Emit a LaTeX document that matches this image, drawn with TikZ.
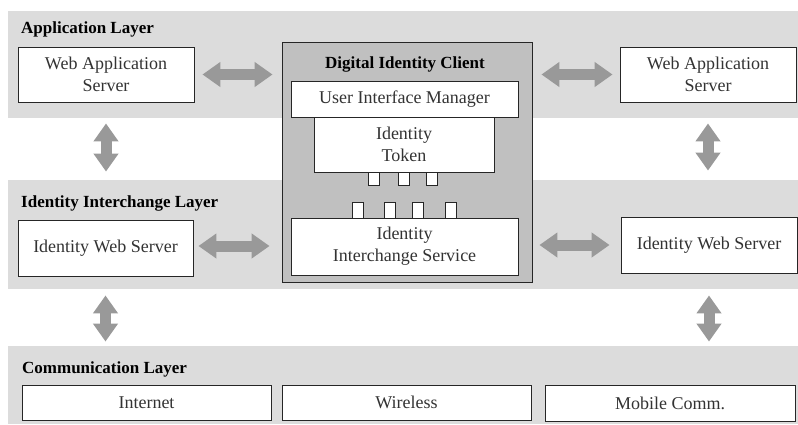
\documentclass[tikz,border=0pt]{standalone}
\usepackage{fontspec}
\setmainfont{Liberation Serif}
\usetikzlibrary{arrows.meta}
\definecolor{bandc}{HTML}{DCDCDC}
\definecolor{dicc}{HTML}{C0C0C0}
\definecolor{arrc}{HTML}{999999}
\begin{document}
\begin{tikzpicture}[x=1pt,y=-1pt,
  band/.style={fill=bandc, draw=none, inner sep=0pt},
  box/.style={draw=black!85, fill=white, line width=0.9pt, inner sep=0pt, align=center,
    font=\fontsize{18}{21.7}\selectfont, text=black!80},
  sq/.style={draw=black!85, fill=white, line width=0.9pt, inner sep=0pt, minimum width=11pt},
  title/.style={font=\bfseries\fontsize{17}{20}\selectfont, anchor=base west, inner sep=0pt},
  bigarrow/.style={draw=arrc, line width=11pt,
    {Triangle[width=24pt,length=18pt]}-{Triangle[width=24pt,length=18pt]}}]
\useasboundingbox (0,0) rectangle (798,424);
% bands
\node[band, minimum width=790pt, minimum height=107pt] (b1) at (403,64.5) {};
\node[band, minimum width=790pt, minimum height=109pt] (b2) at (403,234.5) {};
\node[band, minimum width=790pt, minimum height=78pt] (b3) at (403,385) {};
% titles
\node[title] (t1) at (21,33) {Application Layer};
\node[title] (t2) at (21,207) {Identity Interchange Layer};
\node[title] (t3) at (22,373) {Communication Layer};
% digital identity client
\node[draw=black!85, fill=dicc, line width=0.9pt, minimum width=250pt, minimum height=240pt, inner sep=0pt] (dic) at (407,162) {};
\node[title, anchor=base] (t4) at (405,68) {Digital Identity Client};
\node[box, minimum width=227pt, minimum height=36pt] (uim) at (404.5,99) {User Interface Manager};
\node[box, minimum width=180pt, minimum height=55pt] (tok) at (404,144.5) {Identity\\Token};
\node[box, minimum width=227pt, minimum height=57pt] (iis) at (404.5,246.5) {Identity\\Interchange Service};
% connectors squares
\node[sq, minimum height=13pt] (s1) at (374,178.5) {};
\node[sq, minimum height=13pt] (s2) at (403.5,178.5) {};
\node[sq, minimum height=13pt] (s3) at (432,178.5) {};
\node[sq, minimum height=16pt] (s4) at (357.5,210) {};
\node[sq, minimum height=16pt] (s5) at (389.5,210) {};
\node[sq, minimum height=16pt] (s6) at (418,210) {};
\node[sq, minimum height=16pt] (s7) at (450.5,210) {};
% servers
\node[box, minimum width=176pt, minimum height=55pt] (wasL) at (106,74.5) {Web Application\\Server};
\node[box, minimum width=176pt, minimum height=55pt] (wasR) at (708,74.5) {Web Application\\Server};
\node[box, minimum width=175pt, minimum height=56pt] (iwsL) at (105.5,248) {Identity Web Server};
\node[box, minimum width=176pt, minimum height=56pt] (iwsR) at (709,245) {Identity Web Server};
% communication
\node[box, minimum width=249pt, minimum height=35pt] (inet) at (146.5,402.5) {Internet};
\node[box, minimum width=249pt, minimum height=35pt] (wl) at (406.5,402.5) {Wireless};
\node[box, minimum width=250pt, minimum height=36pt] (mob) at (670,403) {Mobile Comm.};
% arrows
\draw[bigarrow, shorten <=8pt, shorten >=9pt] (wasL.east) -- (wasL.east -| dic.west);
\draw[bigarrow, shorten <=9pt, shorten >=7pt] (dic.east |- wasR.west) -- (wasR.west);
\draw[bigarrow, shorten <=5pt, shorten >=12pt] ([yshift=2pt]iwsL.east) -- ([yshift=2pt]iwsL.east -| dic.west);
\draw[bigarrow, shorten <=7pt, shorten >=11pt] (dic.east |- iwsR.west) -- (iwsR.west);
\draw[bigarrow, shorten <=21pt, shorten >=48pt] (wasL.south) -- (wasL.south |- iwsL.north);
\draw[bigarrow, shorten <=21pt, shorten >=46pt] (wasR.south) -- (wasR.south |- iwsR.north);
\draw[bigarrow, shorten <=19pt, shorten >=43pt] (iwsL.south) -- (iwsL.south |- inet.north);
\draw[bigarrow, shorten <=22pt, shorten >=43pt] (iwsR.south) -- (iwsR.south |- mob.north);
\end{tikzpicture}
\end{document}
